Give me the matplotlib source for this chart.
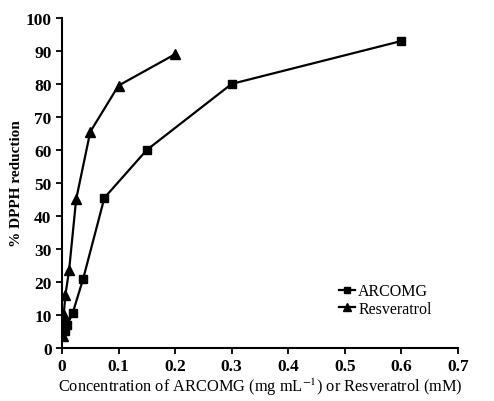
import matplotlib.pyplot as plt
from matplotlib.ticker import FuncFormatter

# concentrations (mg/mL for ARCOMG, mM for resveratrol) and % reduction
arcomg_x = [0.0047, 0.0094, 0.01875, 0.0375, 0.075, 0.15, 0.3, 0.6]
arcomg_y = [5, 7, 10.5, 21, 45.5, 60, 80, 93]
resv_x = [0.0016, 0.003, 0.006, 0.0125, 0.025, 0.05, 0.1, 0.2]
resv_y = [3.5, 10, 16, 23.5, 45, 65.5, 79.5, 89]

x_ticks = [0, 0.1, 0.2, 0.3, 0.4, 0.5, 0.6, 0.7]
y_ticks = list(range(0, 101, 10))

plt.rcParams['font.family'] = 'Liberation Serif'
plt.rcParams['mathtext.fontset'] = 'stix'

fig = plt.figure(figsize=(4.94, 4.02), dpi=100)
ax = fig.add_axes([0.1255, 0.132, 0.8015, 0.821])

ax.plot(arcomg_x, arcomg_y, color='black', lw=1.6, marker='s', ms=5.5,
        label='ARCOMG')
ax.plot(resv_x, resv_y, color='black', lw=1.6, marker='^', ms=6.5,
        label='Resveratrol')

ax.set_xlim(0, 0.7)
ax.set_ylim(0, 100)
ax.set_xticks(x_ticks)
ax.set_yticks(y_ticks)
ax.xaxis.set_major_formatter(FuncFormatter(lambda v, p: '0' if v == 0 else '%g' % v))
ax.tick_params(direction='out', length=4, width=1.3, labelsize=12.5)
for lbl in ax.get_xticklabels() + ax.get_yticklabels():
    lbl.set_fontweight('bold')

for s in ['top', 'right']:
    ax.spines[s].set_visible(False)
for s in ['left', 'bottom']:
    ax.spines[s].set_linewidth(1.5)

ax.set_xlabel('Concentration of ARCOMG (mg mL$^{-1}$) or Resveratrol (mM)',
              fontsize=11.8, labelpad=1)
ax.set_ylabel('% DPPH reduction', fontsize=11, fontweight='bold', labelpad=2)

ax.legend(loc='lower right', bbox_to_anchor=(0.97, 0.05), frameon=False,
          fontsize=11.5, handlelength=1.0, handletextpad=0.2, labelspacing=0.1,
          markerscale=0.9)

plt.savefig('out.png', dpi=100)
